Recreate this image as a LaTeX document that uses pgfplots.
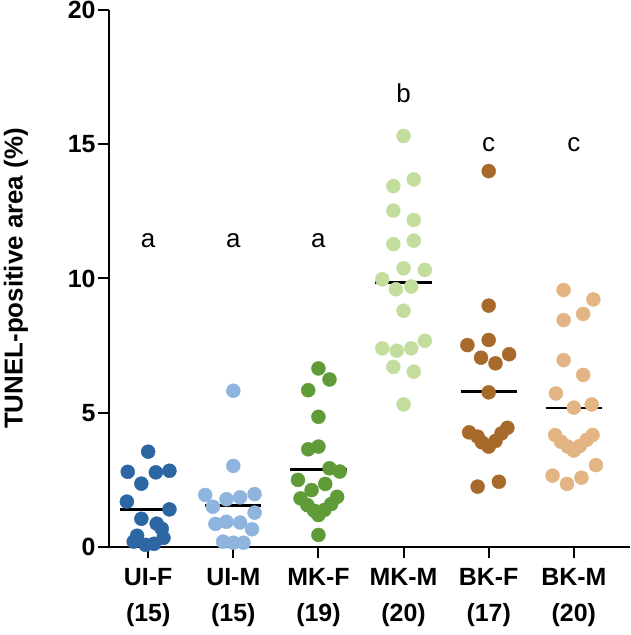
\documentclass[border=0pt]{standalone}
\usepackage{fontspec}
\setmainfont{Liberation Sans}
\usepackage{pgfplots}
\usepackage{pgfplotstable}
\pgfplotsset{compat=1.18}
\definecolor{cUIF}{RGB}{44,103,163}
\definecolor{cUIM}{RGB}{143,180,222}
\definecolor{cMKF}{RGB}{95,155,55}
\definecolor{cMKM}{RGB}{195,221,158}
\definecolor{cBKF}{RGB}{168,106,42}
\definecolor{cBKM}{RGB}{227,181,132}

\pgfplotstableread{
x y
0.00 3.55
0.25 2.84
0.09 2.78
-0.24 2.80
-0.08 2.36
-0.25 1.69
0.25 1.40
-0.08 1.05
0.10 0.87
0.16 0.68
-0.13 0.42
0.18 0.34
-0.17 0.20
-0.03 0.08
0.07 0.12
}\UIF
\pgfplotstableread{
x y
1.00 5.82
1.00 3.02
0.67 1.94
0.76 1.50
0.92 1.78
1.08 1.85
1.25 1.97
1.25 1.28
0.79 0.86
0.92 0.94
1.08 0.91
1.22 0.66
0.88 0.20
1.00 0.16
1.12 0.16
}\UIM
\pgfplotstableread{
x y
2.00 6.65
2.13 6.24
1.88 5.84
2.00 4.85
1.88 3.64
2.00 3.74
2.13 2.93
2.25 2.81
1.76 2.50
2.08 2.35
1.92 2.12
1.79 1.81
2.22 1.87
1.87 1.56
2.15 1.60
1.95 1.35
2.07 1.38
2.00 1.19
2.00 0.45
}\MKF
\pgfplotstableread{
x y
3.00 15.31
2.88 13.44
3.12 13.69
2.88 12.53
3.12 12.18
2.88 11.28
3.12 11.41
3.00 10.38
3.25 10.32
2.75 9.97
2.91 9.60
3.09 9.70
3.00 8.80
2.75 7.40
2.92 7.31
3.09 7.40
3.25 7.68
2.88 6.71
3.12 6.53
3.00 5.31
}\MKM
\pgfplotstableread{
x y
4.00 14.00
4.00 8.99
3.75 7.52
4.00 7.71
3.91 7.05
4.08 6.84
4.24 7.18
4.00 5.76
3.77 4.27
3.87 4.11
3.92 3.90
4.00 3.74
4.08 3.95
4.15 4.23
4.22 4.44
3.87 2.25
4.12 2.43
}\BKF
\pgfplotstableread{
x y
4.88 9.57
5.23 9.22
5.11 8.68
4.88 8.45
4.88 6.96
5.11 6.41
4.79 5.72
5.00 5.19
5.21 5.31
4.78 4.17
4.85 3.92
4.93 3.74
5.00 3.59
5.07 3.76
5.15 3.99
5.22 4.17
5.26 3.05
4.75 2.66
4.92 2.35
5.09 2.58
}\BKM

\begin{document}
\begin{tikzpicture}
\useasboundingbox (-109bp,-88bp) rectangle (521.5bp,547bp);
\begin{axis}[
  at={(0,0)}, anchor=south west,
  scale only axis, width=521bp, height=537bp,
  xmin=-0.46, xmax=5.66, ymin=0, ymax=20,
  axis lines*=left,
  axis line style={line width=2bp, black},
  xtick={0,1,2,3,4,5},
  xticklabels={UI-F\\(15), UI-M\\(15), MK-F\\(19), MK-M\\(20), BK-F\\(17), BK-M\\(20)},
  ytick={0,5,10,15,20},
  tick align=outside,
  major tick length=11bp,
  tick style={line width=2bp, black},
  /pgf/number format/assume math mode=true,
  yticklabel style={font=\bfseries\fontsize{25}{28}\selectfont, xshift=1bp},
  xticklabel style={font=\bfseries\fontsize{25}{36}\selectfont, align=center, yshift=-7bp},
  clip=false,
]
\addplot[only marks, mark=*, mark size=7bp, color=cUIF, mark options={draw=none, fill=cUIF}] table[x=x,y=y] {\UIF};
\addplot[only marks, mark=*, mark size=7bp, color=cUIM, mark options={draw=none, fill=cUIM}] table[x=x,y=y] {\UIM};
\addplot[only marks, mark=*, mark size=7bp, color=cMKF, mark options={draw=none, fill=cMKF}] table[x=x,y=y] {\MKF};
\addplot[only marks, mark=*, mark size=7bp, color=cMKM, mark options={draw=none, fill=cMKM}] table[x=x,y=y] {\MKM};
\addplot[only marks, mark=*, mark size=7bp, color=cBKF, mark options={draw=none, fill=cBKF}] table[x=x,y=y] {\BKF};
\addplot[only marks, mark=*, mark size=7bp, color=cBKM, mark options={draw=none, fill=cBKM}] table[x=x,y=y] {\BKM};
\addplot[black, line width=2.8bp] coordinates {(-0.33,1.41) (0.33,1.41)};
\addplot[black, line width=2.8bp] coordinates {(0.67,1.54) (1.33,1.54)};
\addplot[black, line width=2.8bp] coordinates {(1.67,2.89) (2.33,2.89)};
\addplot[black, line width=2.8bp] coordinates {(2.67,9.85) (3.33,9.85)};
\addplot[black, line width=2.8bp] coordinates {(3.67,5.79) (4.33,5.79)};
\addplot[black, line width=2.8bp] coordinates {(4.67,5.18) (5.33,5.18)};
\node[font=\fontsize{26}{30}\selectfont] at (axis cs:0,11.4) {a};
\node[font=\fontsize{26}{30}\selectfont] at (axis cs:1,11.4) {a};
\node[font=\fontsize{26}{30}\selectfont] at (axis cs:2,11.4) {a};
\node[font=\fontsize{26}{30}\selectfont] at (axis cs:3,16.9) {b};
\node[font=\fontsize{26}{30}\selectfont] at (axis cs:4,15.0) {c};
\node[font=\fontsize{26}{30}\selectfont] at (axis cs:5,15.0) {c};
\node[rotate=90, yshift=93bp, font=\bfseries\fontsize{26}{30}\selectfont] at (axis description cs:0,0.5) {TUNEL-positive area (\%)};
\end{axis}
\end{tikzpicture}
\end{document}
